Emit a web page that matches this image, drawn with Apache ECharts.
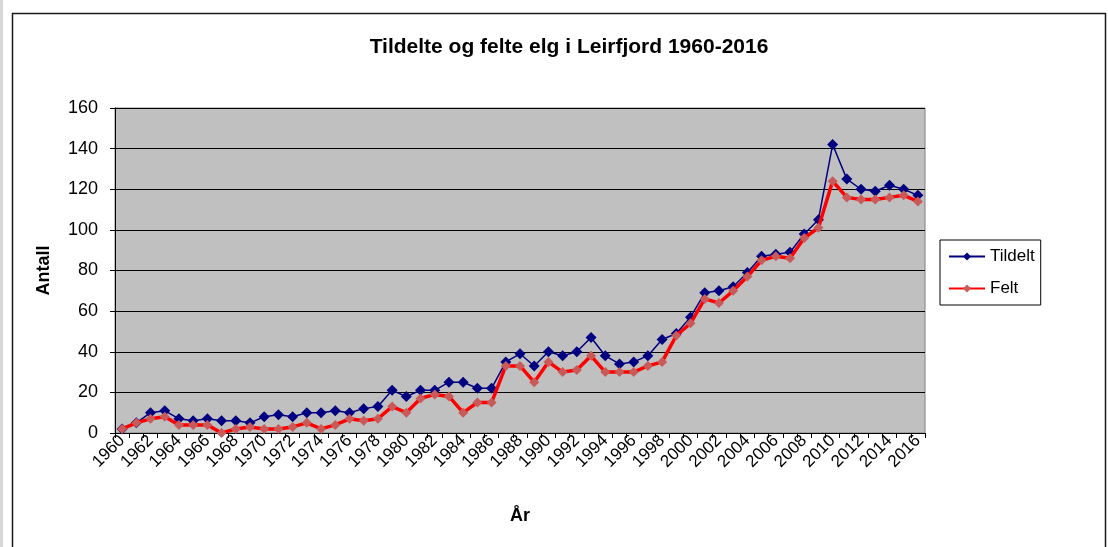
<!DOCTYPE html>
<html lang="no">
<head>
    <meta charset="UTF-8">
    <title>Tildelte og felte elg i Leirfjord 1960-2016</title>
    <script src="https://cdn.jsdelivr.net/npm/echarts@6/dist/echarts.min.js"></script>
    <style>
        html, body { margin: 0; padding: 0; background: #fff; }
        #chart { width: 1108px; height: 547px; }
    </style>
</head>
<body>
    <div id="chart"></div>
    <script type="text/javascript">
        // År 1960-2016
        var years = [];
        for (var y = 1960; y <= 2016; y++) years.push(String(y));

        var tildelt = [2, 5, 10, 11, 7, 6, 7, 6, 6, 5,
            8, 9, 8, 10, 10, 11, 10, 12, 13, 21,
            18, 21, 21, 25, 25, 22, 22, 35, 39, 33,
            40, 38, 40, 47, 38, 34, 35, 38, 46, 49,
            57, 69, 70, 72, 79, 87, 88, 89, 98, 105,
            142, 125, 120, 119, 122, 120, 117];

        var felt = [2, 5, 7, 8, 4, 4, 4, 0, 2, 3,
            2, 2, 3, 5, 2, 4, 7, 6, 7, 13,
            10, 17, 19, 18, 10, 15, 15, 33, 33, 25,
            35, 30, 31, 38, 30, 30, 30, 33, 35, 48,
            54, 66, 64, 70, 77, 85, 87, 86, 96, 101,
            124, 116, 115, 115, 116, 117, 114];

        var font = '"Liberation Sans", Arial, sans-serif';

        var myChart = echarts.init(document.getElementById('chart'));

        var option = {
            backgroundColor: '#ffffff',
            animation: false,
            textStyle: { fontFamily: font },
            graphic: [
                { type: 'rect', left: 0, top: 0, shape: { width: 3, height: 547 }, style: { fill: '#d8d8d8' } },
                { type: 'rect', left: 10, top: 11, shape: { width: 1093, height: 545 }, style: { fill: 'none', stroke: '#1a1a1a', lineWidth: 1.5 } }
            ],
            title: {
                text: 'Tildelte og felte elg i Leirfjord 1960-2016',
                left: 564,
                top: 32,
                textAlign: 'center',
                textStyle: { fontFamily: font, fontSize: 21, fontWeight: 'bold', color: '#000' }
            },
            legend: {
                orient: 'vertical',
                left: 940,
                top: 240,
                padding: [8, 6, 8, 8],
                itemGap: 15,
                itemWidth: 36,
                itemHeight: 10,
                borderColor: '#000',
                borderWidth: 1,
                backgroundColor: '#fff',
                textStyle: { fontFamily: font, fontSize: 17, color: '#000' },
                data: ['Tildelt', 'Felt']
            },
            grid: {
                left: 115,
                right: 183,
                top: 108,
                bottom: 114,
                show: true,
                backgroundColor: '#c0c0c0',
                borderColor: '#808080',
                borderWidth: 1
            },
            xAxis: {
                type: 'category',
                data: years,
                boundaryGap: true,
                name: 'År',
                nameLocation: 'middle',
                nameGap: 74,
                nameTextStyle: { fontFamily: font, fontSize: 18, fontWeight: 'bold', color: '#000' },
                axisLine: { lineStyle: { color: '#000', width: 1 } },
                axisTick: { show: true, interval: 0, length: 5, lineStyle: { color: '#000' } },
                axisLabel: { interval: 1, rotate: 45, fontSize: 17, color: '#000', margin: 5 },
                splitLine: { show: false }
            },
            yAxis: {
                type: 'value',
                min: 0,
                max: 160,
                interval: 20,
                name: 'Antall',
                nameLocation: 'middle',
                nameGap: 62,
                nameTextStyle: { fontFamily: font, fontSize: 18, fontWeight: 'bold', color: '#000' },
                axisLine: { show: true, lineStyle: { color: '#000', width: 1 } },
                axisTick: { show: true, length: 5, lineStyle: { color: '#000' } },
                axisLabel: { fontSize: 18, color: '#000', margin: 17 },
                splitLine: { show: true, lineStyle: { color: '#000', width: 1 } }
            },
            series: [
                {
                    name: 'Tildelt',
                    type: 'line',
                    data: tildelt,
                    symbol: 'diamond',
                    symbolSize: 11,
                    showAllSymbol: true,
                    color: '#000080',
                    lineStyle: { color: '#000080', width: 1.5 },
                    itemStyle: { color: '#000080' },
                    z: 2
                },
                {
                    name: 'Felt',
                    type: 'line',
                    data: felt,
                    symbol: 'diamond',
                    symbolSize: 10,
                    showAllSymbol: true,
                    color: '#ff0000',
                    lineStyle: { color: '#ff0000', width: 3.5 },
                    itemStyle: { color: '#c85a5a' },
                    z: 3
                }
            ]
        };

        myChart.setOption(option);
    </script>
</body>
</html>
